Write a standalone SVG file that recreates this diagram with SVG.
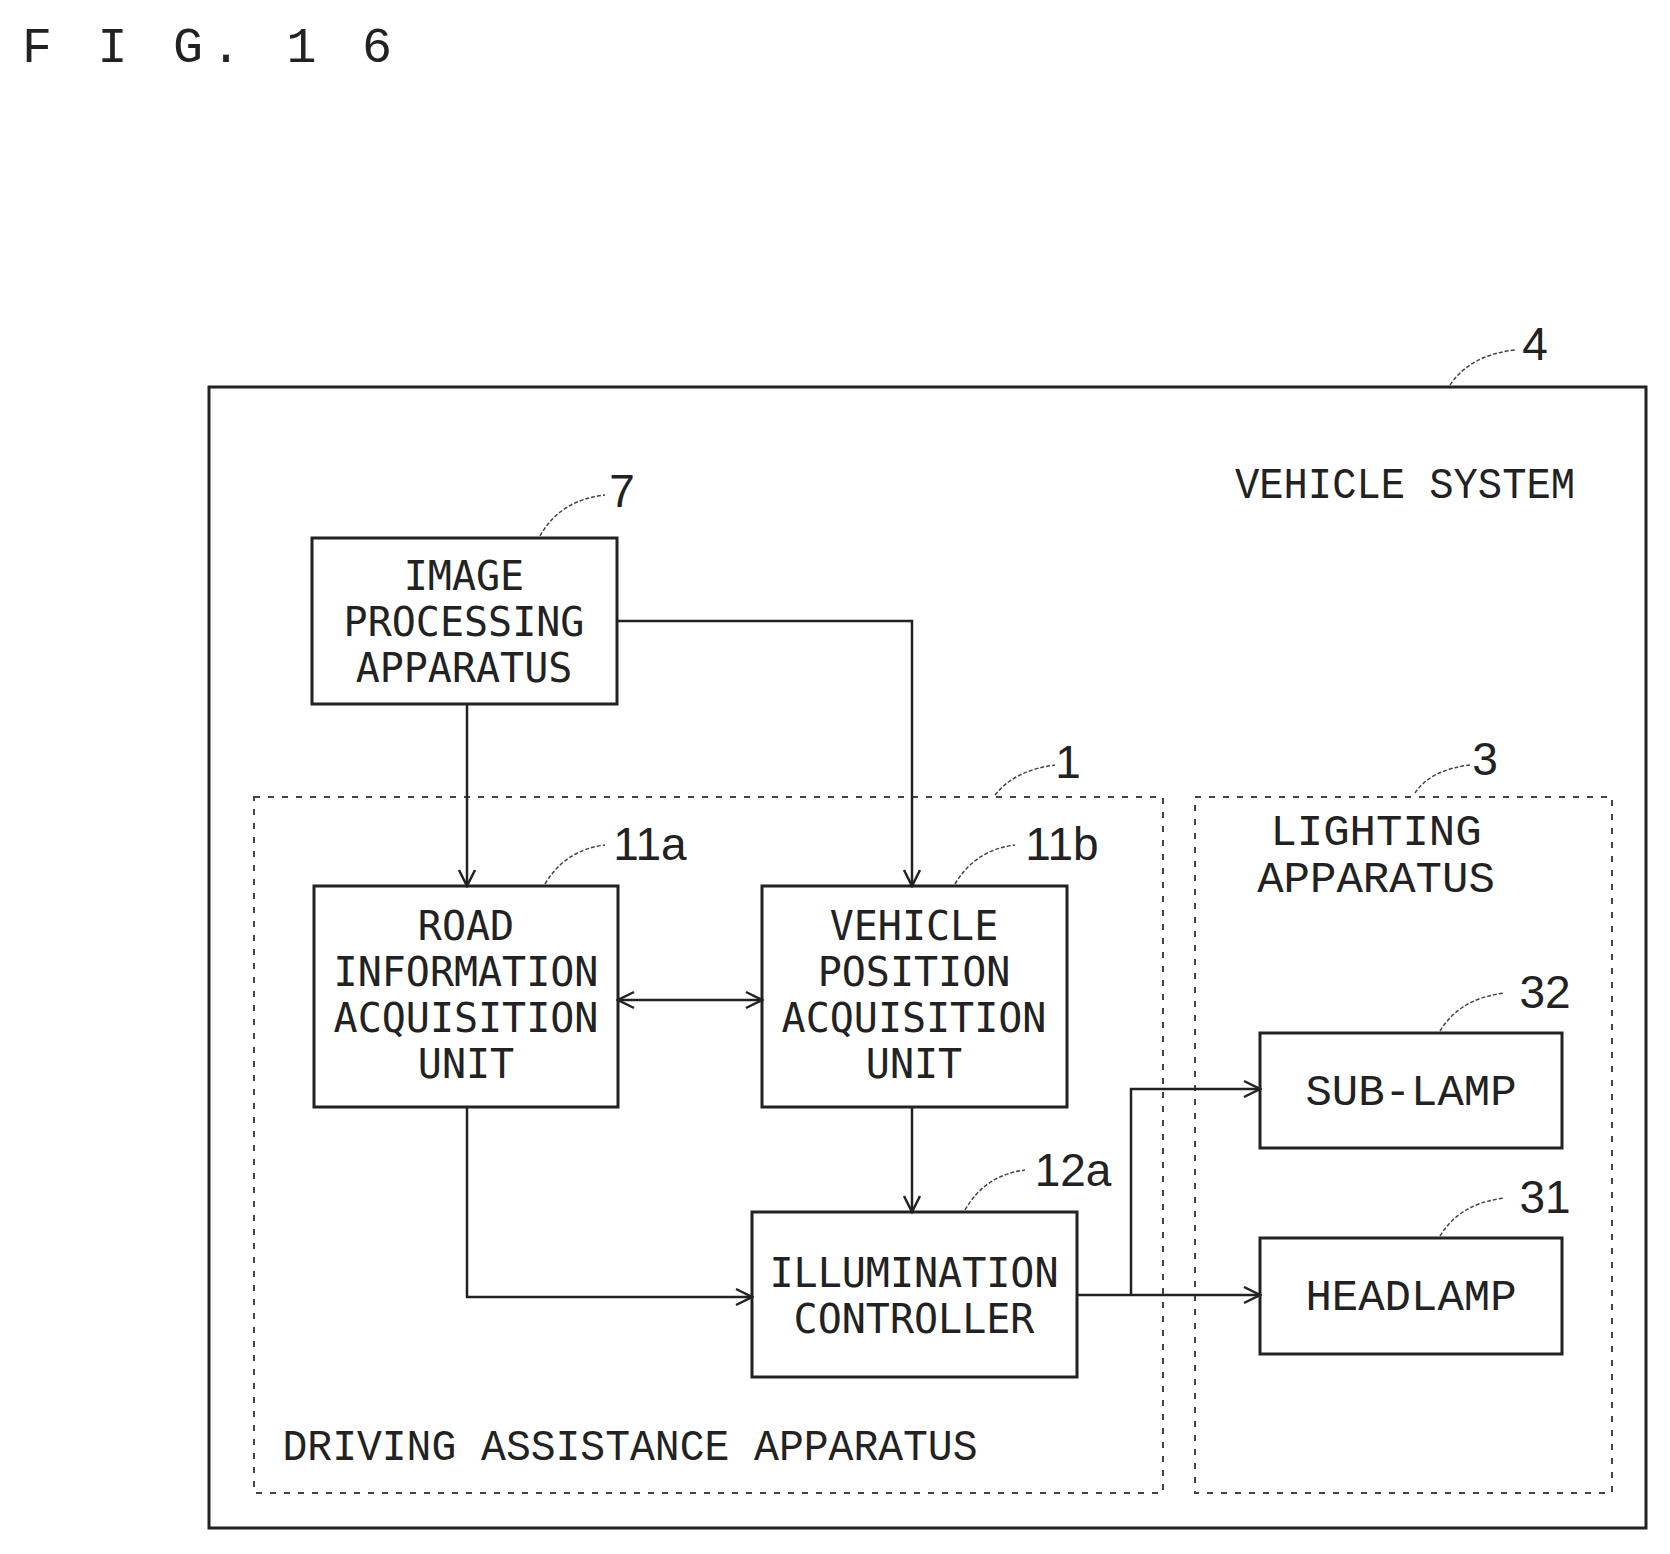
<svg xmlns="http://www.w3.org/2000/svg" width="1670" height="1554" viewBox="0 0 1670 1554">
<defs>
<style>
.b{fill:none;stroke:#222;stroke-width:3}
.d{fill:none;stroke:#444;stroke-width:2;stroke-dasharray:6 8}
.c{fill:none;stroke:#222;stroke-width:2.5}
.l{fill:none;stroke:#444;stroke-width:1.5;stroke-dasharray:4 2}
text{font-family:"Liberation Mono",monospace;font-size:44px;fill:#222;text-anchor:middle}
.n{font-family:"DejaVu Sans Mono","Liberation Mono",monospace;font-size:40px}
.r{font-family:"Liberation Sans",sans-serif;font-size:46px}
</style>
<marker id="a" markerWidth="20" markerHeight="20" refX="18" refY="10" orient="auto" markerUnits="userSpaceOnUse"><path d="M2,2 L18,10 L2,18" fill="none" stroke="#222" stroke-width="2.5"/></marker>
<marker id="s" markerWidth="20" markerHeight="20" refX="2" refY="10" orient="auto" markerUnits="userSpaceOnUse"><path d="M18,2 L2,10 L18,18" fill="none" stroke="#222" stroke-width="2.5"/></marker>
</defs>
<rect width="1670" height="1554" fill="#fff"/>
<text x="22" y="62" style="text-anchor:start;font-size:50px" textLength="370">F I G. 1 6</text>
<g id="vehicle-system"><rect class="b" x="209" y="387" width="1437" height="1141"/><text x="1405" y="498" textLength="340" lengthAdjust="spacingAndGlyphs">VEHICLE SYSTEM</text><path class="l" d="M1450,385 Q1470,355 1515,350"/><text class="r" x="1535" y="360">4</text></g>
<g id="driving-assistance"><rect class="d" x="254" y="797" width="909" height="696"/><text x="630" y="1460" textLength="695" lengthAdjust="spacingAndGlyphs">DRIVING ASSISTANCE APPARATUS</text><path class="l" d="M995,795 Q1015,770 1055,765"/><text class="r" x="1068" y="778">1</text></g>
<g id="lighting"><rect class="d" x="1195" y="797" width="417" height="696"/><text x="1376" y="845">LIGHTING</text><text x="1376" y="892">APPARATUS</text><path class="l" d="M1415,793 Q1430,770 1470,765"/><text class="r" x="1485" y="775">3</text></g>
<g id="image-processing"><rect class="b" x="312" y="538" width="305" height="166"/><text class="n" x="464" y="590">IMAGE</text><text class="n" x="464" y="636">PROCESSING</text><text class="n" x="464" y="682">APPARATUS</text><path class="l" d="M540,536 Q560,500 605,495"/><text class="r" x="622" y="507">7</text></g>
<g id="road"><rect class="b" x="314" y="886" width="304" height="221"/><text class="n" x="466" y="940">ROAD</text><text class="n" x="466" y="986">INFORMATION</text><text class="n" x="466" y="1032">ACQUISITION</text><text class="n" x="466" y="1078">UNIT</text><path class="l" d="M545,884 Q565,850 605,845"/><text class="r" x="650" y="860">11a</text></g>
<g id="vehicle-position"><rect class="b" x="762" y="886" width="305" height="221"/><text class="n" x="914" y="940">VEHICLE</text><text class="n" x="914" y="986">POSITION</text><text class="n" x="914" y="1032">ACQUISITION</text><text class="n" x="914" y="1078">UNIT</text><path class="l" d="M955,884 Q975,850 1015,845"/><text class="r" x="1062" y="860">11b</text></g>
<g id="illumination"><rect class="b" x="752" y="1212" width="325" height="165"/><text class="n" x="914" y="1287">ILLUMINATION</text><text class="n" x="914" y="1333">CONTROLLER</text><path class="l" d="M965,1210 Q985,1175 1025,1170"/><text class="r" x="1073" y="1186">12a</text></g>
<g id="sub-lamp"><rect class="b" x="1260" y="1033" width="302" height="115"/><text x="1411" y="1105">SUB-LAMP</text><path class="l" d="M1440,1031 Q1460,998 1505,993"/><text class="r" x="1545" y="1008">32</text></g>
<g id="headlamp"><rect class="b" x="1260" y="1238" width="302" height="116"/><text x="1411" y="1310">HEADLAMP</text><path class="l" d="M1440,1236 Q1460,1203 1505,1198"/><text class="r" x="1545" y="1213">31</text></g>
<g id="connectors">
<path class="c" d="M467,704 V886" marker-end="url(#a)"/>
<path class="c" d="M617,621 H912 V886" marker-end="url(#a)"/>
<path class="c" d="M618,1000 H762" marker-start="url(#s)" marker-end="url(#a)"/>
<path class="c" d="M467,1107 V1297 H752" marker-end="url(#a)"/>
<path class="c" d="M912,1107 V1212" marker-end="url(#a)"/>
<path class="c" d="M1077,1295 H1260" marker-end="url(#a)"/>
<path class="c" d="M1131,1295 V1089 H1260" marker-end="url(#a)"/>
</g>
</svg>
